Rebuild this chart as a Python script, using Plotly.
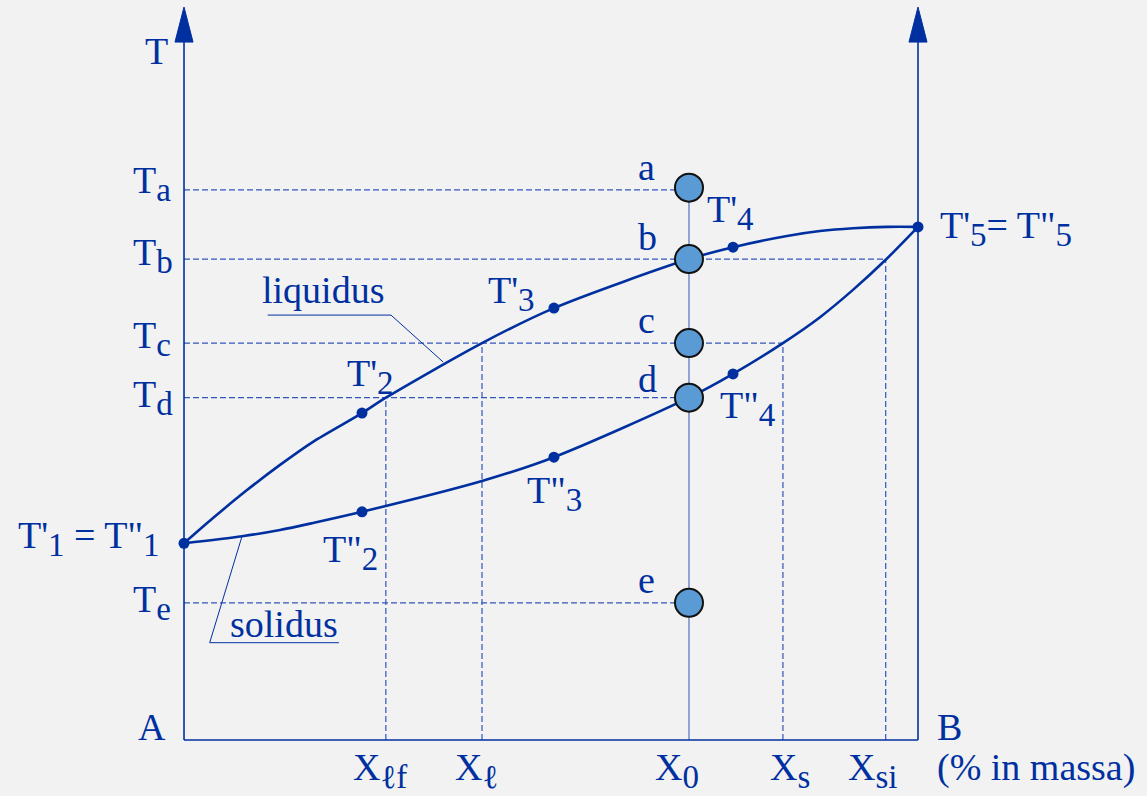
import plotly.graph_objects as go

BG = "#f2f2f2"
INK = "#0030a0"
DASH = "#3355bb"
FILL = "#5b9bd5"
FONT = "Liberation Serif, DejaVu Serif, Times New Roman, serif"

# x = composition (% in massa di B), T = temperature (arbitrary units)
liq_x = [0, 3.95, 8.58, 13.08, 17.57, 24.25, 27.5, 40.6, 50.4, 68.8, 74.8, 82.15, 86.65, 91.14, 95.78, 100]
liq_T = [28.1, 31.7, 35.7, 39.3, 42.6, 46.7, 48.9, 56.7, 61.7, 68.7, 70.4, 72.0, 72.7, 73.1, 73.3, 73.3]
sol_x = [0, 7.9, 13.08, 17.57, 24.25, 40.6, 50.4, 68.8, 74.8, 81.6, 86.65, 91.14, 95.6, 100]
sol_T = [28.1, 29.1, 30.0, 31.0, 32.6, 37.0, 40.4, 48.9, 52.3, 56.7, 60.4, 64.3, 68.6, 73.3]

# points marked on the curves
dot_x = [0, 24.25, 50.4, 74.8, 100, 24.25, 50.4, 74.8]
dot_T = [28.1, 46.7, 61.7, 70.4, 73.3, 32.6, 40.4, 52.3]

# alloy X0 states a..e
X0 = 68.8
state_T = [78.9, 68.7, 56.7, 48.9, 19.6]

# horizontal temperature levels and where their dashed line stops
level_T = [78.6, 68.7, 56.7, 48.9, 19.6]
level_end = [68.8, 95.6, 81.6, 68.8, 68.8]

# vertical composition lines and the level they start from
comp_x = [27.5, 40.6, 81.6, 95.6]
comp_top = [48.9, 56.7, 56.7, 68.7]

# leader lines for the curve names
liq_lead_x = [11.4, 28.2, 35.3]
liq_lead_T = [60.7, 60.7, 54.0]
sol_lead_x = [21.1, 3.5, 7.9]
sol_lead_T = [13.9, 13.9, 29.1]

AX_TOP = 99.7
ARROW_TIP = 104.7
ARROW_HALF = 1.23


def sub(s):
    return "<sub><span style='font-size:33px'>" + s + "</span></sub>"


# text, left x, top T
labels = [
    ("T", -5.31, 101.4),
    ("T" + sub("a"), -6.95, 83.0),
    ("T" + sub("b"), -6.95, 72.7),
    ("T" + sub("c"), -6.95, 60.9),
    ("T" + sub("d"), -6.95, 52.4),
    ("T" + sub("e"), -6.95, 23.1),
    ("T'" + sub("1") + " = T\"" + sub("1"), -22.6, 32.3),
    ("A", -6.27, 4.86),
    ("B", 102.6, 4.86),
    ("X" + sub("ℓf"), 23.0, -0.86),
    ("X" + sub("ℓ"), 36.9, -0.86),
    ("X" + sub("0"), 64.2, -0.86),
    ("X" + sub("s"), 79.8, -0.86),
    ("X" + sub("si"), 90.5, -0.86),
    ("(% in massa)", 102.6, -0.86),
    ("a", 61.8, 84.9),
    ("b", 61.8, 74.9),
    ("c", 61.8, 63.0),
    ("d", 61.8, 54.6),
    ("e", 61.8, 25.9),
    ("liquidus", 10.6, 67.3),
    ("solidus", 6.27, 19.6),
    ("T'" + sub("2"), 22.2, 55.4),
    ("T'" + sub("3"), 41.4, 67.3),
    ("T'" + sub("4"), 71.3, 78.9),
    ("T\"" + sub("2"), 18.9, 30.3),
    ("T\"" + sub("3"), 46.7, 38.7),
    ("T\"" + sub("4"), 73.0, 50.9),
    ("T'" + sub("5") + "= T\"" + sub("5"), 103.0, 76.6),
]

fig = go.Figure()

dash_line = dict(color=DASH, width=1.2, dash="6px,3px")
for t, xe in zip(level_T, level_end):
    fig.add_trace(go.Scatter(x=[0, xe], y=[t, t], mode="lines", line=dash_line))
for xc, tt in zip(comp_x, comp_top):
    fig.add_trace(go.Scatter(x=[xc, xc], y=[0, tt], mode="lines", line=dash_line))

# X0 vertical
fig.add_trace(go.Scatter(x=[X0, X0], y=[0, state_T[0]], mode="lines",
                         line=dict(color=DASH, width=1)))

# leaders
for lx, lt in [(liq_lead_x, liq_lead_T), (sol_lead_x, sol_lead_T)]:
    fig.add_trace(go.Scatter(x=lx, y=lt, mode="lines", line=dict(color=INK, width=1)))

# liquidus and solidus
for cx, ct in [(liq_x, liq_T), (sol_x, sol_T)]:
    fig.add_trace(go.Scatter(x=cx, y=ct, mode="lines",
                             line=dict(color=INK, width=2.6, shape="spline", smoothing=0.8)))

# axes
fig.add_trace(go.Scatter(x=[0, 0, None, 100, 100, None, 0, 100],
                         y=[0, AX_TOP, None, 0, AX_TOP, None, 0, 0],
                         mode="lines", line=dict(color=INK, width=1.6)))
for ax in [0, 100]:
    fig.add_trace(go.Scatter(x=[ax - ARROW_HALF, ax + ARROW_HALF, ax, ax - ARROW_HALF],
                             y=[AX_TOP, AX_TOP, ARROW_TIP, AX_TOP],
                             mode="lines", fill="toself", fillcolor=INK,
                             line=dict(color=INK, width=1)))

# dots on curves
fig.add_trace(go.Scatter(x=dot_x, y=dot_T, mode="markers",
                         marker=dict(size=11, color=INK)))

# states of alloy X0
fig.add_trace(go.Scatter(x=[X0] * len(state_T), y=state_T, mode="markers",
                         marker=dict(size=28, color=FILL, line=dict(color="#111111", width=2))))

for text, lx, ly in labels:
    fig.add_annotation(x=lx, y=ly, text=text, showarrow=False,
                       xanchor="left", yanchor="top", borderpad=0, borderwidth=0,
                       font=dict(family=FONT, size=38, color=INK))

fig.update_layout(
    width=1147, height=796,
    margin=dict(l=0, r=0, t=0, b=0),
    paper_bgcolor=BG, plot_bgcolor=BG,
    showlegend=False, hovermode=False,
    xaxis=dict(range=[-25.07, 131.2], visible=False),
    yaxis=dict(range=[-8.0, 105.71], visible=False),
)

fig.write_html("out.html", config={"displayModeBar": False},
               post_script="document.body.style.margin='0';"
                           "document.body.style.background='" + BG + "';")
